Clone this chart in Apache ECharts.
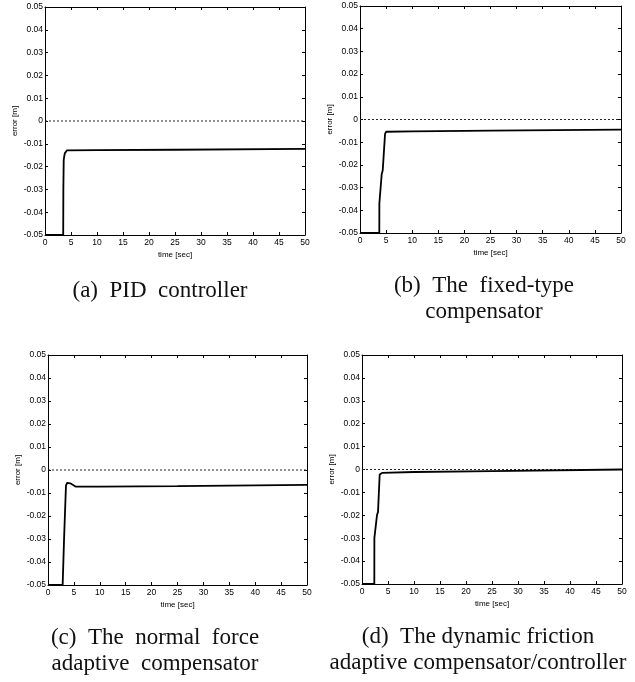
<!DOCTYPE html>
<html>
<head>
<meta charset="utf-8">
<script src="https://cdn.jsdelivr.net/npm/echarts@6/dist/echarts.min.js"></script>
<style>
  html, body { margin: 0; padding: 0; background: #ffffff; }
  #chart { width: 635px; height: 682px; }
</style>
</head>
<body>
<div id="chart"></div>
<script>
// Tracking error responses for four friction-compensation schemes
var timeA = [0, 3.5, 3.53, 3.6, 3.8, 4.2, 10, 25, 50];
var errA  = [-0.05, -0.05, -0.03, -0.017, -0.0142, -0.0129, -0.0128, -0.0126, -0.0122];

var timeB = [0, 3.7, 3.71, 4.16, 4.35, 4.8, 5.0, 10, 25, 50];
var errB  = [-0.05, -0.05, -0.037, -0.024, -0.0225, -0.0063, -0.0054, -0.0052, -0.0049, -0.0045];

var timeC = [0, 2.83, 3.1, 3.47, 3.7, 3.99, 4.3, 4.6, 5.3, 10, 25, 50];
var errC  = [-0.05, -0.05, -0.03, -0.0068, -0.0056, -0.0054, -0.0058, -0.0065, -0.0072, -0.0072, -0.0070, -0.0065];

var timeD = [0, 2.37, 2.38, 2.88, 3.08, 3.4, 3.85, 10, 25, 50];
var errD  = [-0.05, -0.05, -0.03, -0.02, -0.0185, -0.0022, -0.0015, -0.0011, -0.0007, 0.0];

// Dashed zero reference
var refTime = [0, 50];
var refErr  = [0, 0];

var xTickLabels = ['0', '5', '10', '15', '20', '25', '30', '35', '40', '45', '50'];
var yTickLabels = ['-0.05', '-0.04', '-0.03', '-0.02', '-0.01', '0', '0.01', '0.02', '0.03', '0.04', '0.05'];

var captionA = '(a)  PID  controller';
var captionB = '(b)  The  fixed-type\ncompensator';
var captionC = '(c)  The  normal  force\nadaptive  compensator';
var captionD = '(d)  The dynamic friction\nadaptive compensator/controller';

var panels = [
  { t: timeA, e: errA, box: { left: 45, top: 7, width: 260, height: 228 } },
  { t: timeB, e: errB, box: { left: 360, top: 6, width: 261, height: 227 } },
  { t: timeC, e: errC, box: { left: 48, top: 355, width: 259, height: 230 } },
  { t: timeD, e: errD, box: { left: 362, top: 355, width: 260, height: 229 } }
];

var captions = [
  { text: captionA, x: 160, y: 278 },
  { text: captionB, x: 484, y: 273 },
  { text: captionC, x: 155, y: 625 },
  { text: captionD, x: 478, y: 624 }
];

var tickFont = '"Liberation Sans Narrow", "Liberation Sans", Arial, sans-serif';

function pair(xs, ys) {
  var out = [];
  for (var i = 0; i < xs.length; i++) out.push([xs[i], ys[i]]);
  return out;
}

function yLabel(v) {
  var idx = Math.round((v + 0.05) / 0.01);
  return yTickLabels[idx] !== undefined ? yTickLabels[idx] : '';
}
function xLabel(v) {
  var idx = Math.round(v / 5);
  return xTickLabels[idx] !== undefined ? xTickLabels[idx] : '';
}

var grids = [], xAxes = [], yAxes = [], series = [];
var lineStyleAxis = { color: '#000', width: 1 };
var labelStyle = { fontFamily: tickFont, fontSize: 8.5, color: '#000' };

panels.forEach(function (p, i) {
  grids.push(p.box);
  // bottom / left axes with labels
  xAxes.push({
    type: 'value', gridIndex: i, min: 0, max: 50, interval: 5, position: 'bottom',
    name: 'time [sec]', nameLocation: 'middle', nameGap: 16,
    nameTextStyle: { fontFamily: tickFont, fontSize: 8, color: '#000' },
    axisLine: { show: true, onZero: false, lineStyle: lineStyleAxis },
    axisTick: { show: true, inside: true, length: 3, lineStyle: lineStyleAxis },
    axisLabel: Object.assign({ margin: 3, formatter: xLabel }, labelStyle),
    splitLine: { show: false }
  });
  yAxes.push({
    type: 'value', gridIndex: i, min: -0.05, max: 0.05, interval: 0.01, position: 'left',
    name: 'error [m]', nameLocation: 'middle', nameGap: 26, nameRotate: 90,
    nameTextStyle: { fontFamily: tickFont, fontSize: 8, color: '#000' },
    axisLine: { show: true, onZero: false, lineStyle: lineStyleAxis },
    axisTick: { show: true, inside: true, length: 3, lineStyle: lineStyleAxis },
    axisLabel: Object.assign({ margin: 2, formatter: yLabel }, labelStyle),
    splitLine: { show: false }
  });
});

// top / right axes: box frame with inward ticks, no labels
panels.forEach(function (p, i) {
  xAxes.push({
    type: 'value', gridIndex: i, min: 0, max: 50, interval: 5, position: 'top',
    axisLine: { show: true, onZero: false, lineStyle: lineStyleAxis },
    axisTick: { show: true, inside: true, length: 3, lineStyle: lineStyleAxis },
    axisLabel: { show: false }, splitLine: { show: false }
  });
  yAxes.push({
    type: 'value', gridIndex: i, min: -0.05, max: 0.05, interval: 0.01, position: 'right',
    axisLine: { show: true, onZero: false, lineStyle: lineStyleAxis },
    axisTick: { show: true, inside: true, length: 3, lineStyle: lineStyleAxis },
    axisLabel: { show: false }, splitLine: { show: false }
  });
});

panels.forEach(function (p, i) {
  series.push({
    type: 'line', xAxisIndex: i, yAxisIndex: i, data: pair(refTime, refErr),
    showSymbol: false, silent: true, animation: false,
    lineStyle: { color: '#222', width: 1, type: [2, 2] }
  });
  series.push({
    type: 'line', xAxisIndex: i, yAxisIndex: i, data: pair(p.t, p.e),
    showSymbol: false, silent: true, animation: false, clip: false,
    lineStyle: { color: '#000', width: 1.8 }
  });
});

var graphics = captions.map(function (c) {
  return {
    type: 'text', x: c.x, y: c.y, silent: true,
    style: {
      text: c.text, fill: '#111', align: 'center', verticalAlign: 'top',
      font: '23px "Liberation Serif", "Times New Roman", serif', lineHeight: 26
    }
  };
});

var chart = echarts.init(document.getElementById('chart'), null, { renderer: 'canvas' });
chart.setOption({
  animation: false,
  backgroundColor: '#ffffff',
  grid: grids,
  xAxis: xAxes,
  yAxis: yAxes,
  series: series,
  graphic: graphics
});
</script>
</body>
</html>
